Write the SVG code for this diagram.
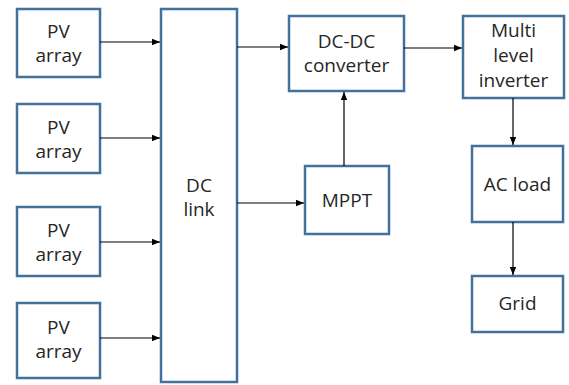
<svg xmlns="http://www.w3.org/2000/svg" width="569" height="385" viewBox="0 0 569 385">
<defs>
<style>
.box{fill:#fff;stroke:#41719c;stroke-width:2.5}
.t{font-family:"Open Sans","Liberation Sans",sans-serif;font-size:19px;fill:#262626;text-anchor:middle}
.c{stroke:#000;stroke-width:1.2;fill:none;marker-end:url(#ah)}
</style>
<marker id="ah" viewBox="0 0 10 10" refX="10" refY="5" markerWidth="8" markerHeight="8" markerUnits="userSpaceOnUse" orient="auto">
<path d="M0,1 L10,5 L0,9 z" fill="#000"/>
</marker>
</defs>
<rect width="569" height="385" fill="#fff"/>
<g id="pv1"><rect class="box" x="17" y="9" width="83" height="68"/><text class="t" x="58.5" y="38">PV</text><text class="t" x="58.5" y="62">array</text></g>
<g id="pv2"><rect class="box" x="17" y="104" width="83" height="69"/><text class="t" x="58.5" y="134">PV</text><text class="t" x="58.5" y="158">array</text></g>
<g id="pv3"><rect class="box" x="17" y="207" width="83" height="69"/><text class="t" x="58.5" y="237">PV</text><text class="t" x="58.5" y="261">array</text></g>
<g id="pv4"><rect class="box" x="17" y="303" width="83" height="75"/><text class="t" x="58.5" y="334">PV</text><text class="t" x="58.5" y="358">array</text></g>
<g id="dclink"><rect class="box" x="161" y="9" width="76" height="373"/><text class="t" x="199" y="192">DC</text><text class="t" x="199" y="216">link</text></g>
<g id="dcdc"><rect class="box" x="289" y="16" width="115" height="75"/><text class="t" x="346.5" y="48">DC-DC</text><text class="t" x="346.5" y="72">converter</text></g>
<g id="mppt"><rect class="box" x="305" y="166" width="84" height="68"/><text class="t" x="347" y="207">MPPT</text></g>
<g id="inverter"><rect class="box" x="463" y="16" width="101" height="82"/><text class="t" x="513.5" y="37">Multi</text><text class="t" x="513.5" y="62">level</text><text class="t" x="513.5" y="87">inverter</text></g>
<g id="acload"><rect class="box" x="472" y="146" width="91" height="76"/><text class="t" x="517.5" y="191">AC load</text></g>
<g id="grid"><rect class="box" x="472" y="276" width="91" height="56"/><text class="t" x="517.5" y="310">Grid</text></g>
<g id="connectors">
<line class="c" x1="100" y1="42" x2="160" y2="42"/>
<line class="c" x1="100" y1="138" x2="160" y2="138"/>
<line class="c" x1="100" y1="242" x2="160" y2="242"/>
<line class="c" x1="100" y1="338" x2="160" y2="338"/>
<line class="c" x1="237" y1="47" x2="288" y2="47"/>
<line class="c" x1="237" y1="203" x2="304" y2="203"/>
<line class="c" x1="344" y1="166" x2="344" y2="92"/>
<line class="c" x1="404" y1="48" x2="462" y2="48"/>
<line class="c" x1="513" y1="98" x2="513" y2="145"/>
<line class="c" x1="513" y1="222" x2="513" y2="275"/>
</g>
</svg>
